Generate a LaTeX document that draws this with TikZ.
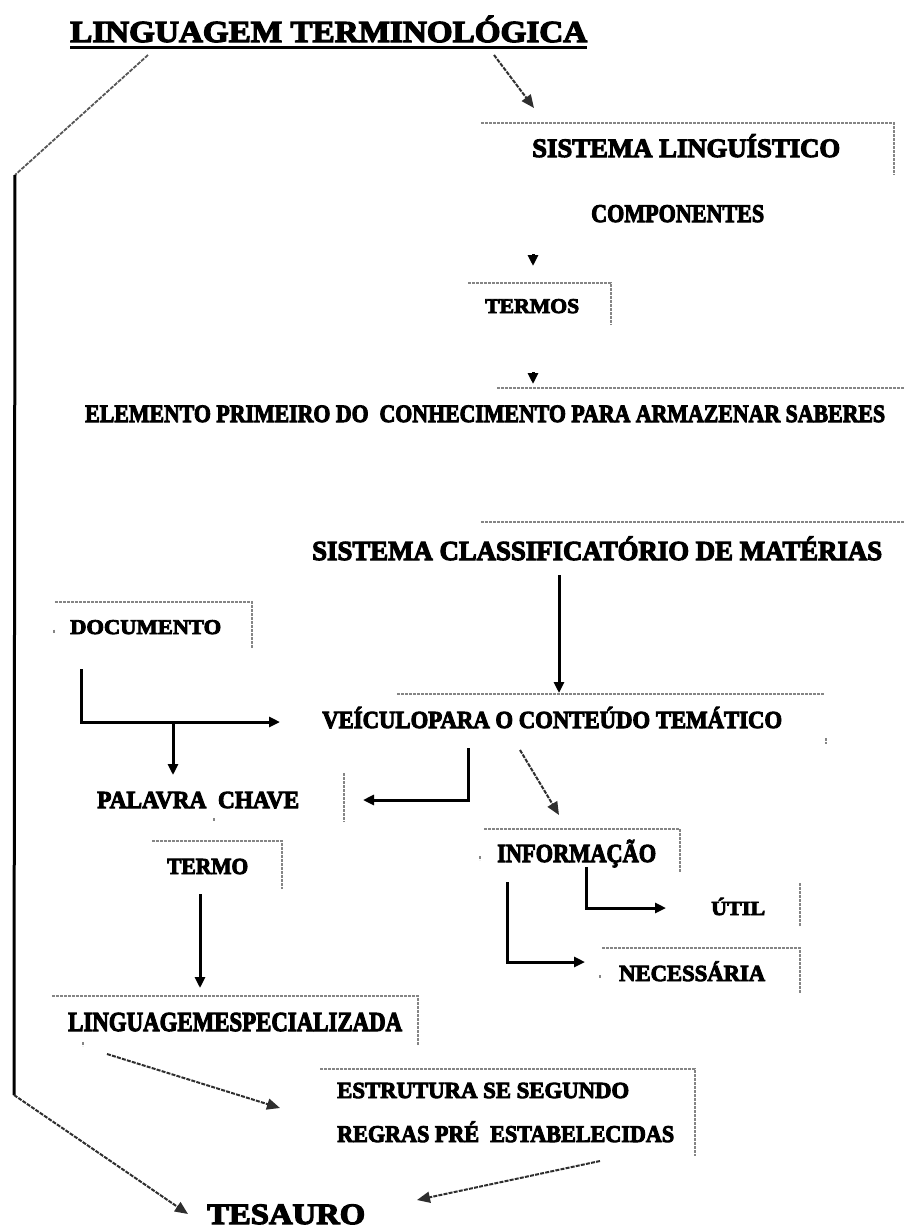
\documentclass[tikz,border=0pt]{standalone}
\usepackage{graphicx}
\usepackage{fontspec}
\setmainfont{Liberation Serif}
\newfontfamily\heavyserif{Liberation Serif Bold}[FakeBold=4]
\usetikzlibrary{arrows.meta}

% heavy condensed caption: width (pt), font size (pt), text
\newcommand\capw[3]{{\fontsize{#2}{#2}\selectfont\heavyserif\resizebox{#1pt}{\height}{#3}}}

\definecolor{framegray}{HTML}{858585}
\definecolor{linkgray}{HTML}{2E2E2E}
\definecolor{pathgray}{HTML}{555555}

\begin{document}
\begin{tikzpicture}[x=1pt,y=-1pt,
  lbl/.style={inner sep=0pt, anchor=base west},
  frame/.style={draw=framegray, line width=2pt, dash pattern=on 3pt off 1pt},
  wire/.style={line width=3pt, line join=miter},
  link/.style={wire, -{Triangle[length=11pt,width=10pt]}},
  dotlink/.style={draw=linkgray, line width=2pt, dash pattern=on 4pt off 1.2pt,
                  -{Triangle[length=13pt,width=11pt]}},
  dotwire/.style={draw=pathgray, line width=1.8pt, dash pattern=on 4pt off 1.2pt},
]
\useasboundingbox (0,0) rectangle (904,1229);

% ---------- texts ----------
\node[lbl] (title) at (70,42)   {\capw{517}{30.5}{LINGUAGEM TERMINOLÓGICA}};
\node[lbl] (sling) at (532,157) {\capw{308}{26.5}{SISTEMA LINGUÍSTICO}};
\node[lbl] (comp)  at (591,222) {\capw{173}{25.5}{COMPONENTES}};
\node[lbl] (termos) at (485,313) {\capw{94}{21}{TERMOS}};
\node[lbl] (elem)  at (85,422)  {\capw{800}{25}{ELEMENTO PRIMEIRO DO\ \ CONHECIMENTO PARA ARMAZENAR SABERES}};
\node[lbl] (scm)   at (312,560) {\capw{570}{27.5}{SISTEMA CLASSIFICATÓRIO DE MATÉRIAS}};
\node[lbl] (doc)   at (70,634)  {\capw{151}{21}{DOCUMENTO}};
\node[lbl] (veic)  at (322,728) {\capw{460}{24.5}{VEÍCULOPARA O CONTEÚDO TEMÁTICO}};
\node[lbl] (pal)   at (97,808)  {\capw{202}{24.5}{PALAVRA\ \ CHAVE}};
\node[lbl] (termo) at (167,874) {\capw{81}{23}{TERMO}};
\node[lbl] (info)  at (497,862) {\capw{159}{26}{INFORMAÇÃO}};
\node[lbl] (util)  at (711,915) {\capw{54}{20}{ÚTIL}};
\node[lbl] (nec)   at (619,981) {\capw{146}{23}{NECESSÁRIA}};
\node[lbl] (lesp)  at (68,1031) {\capw{334}{27.5}{LINGUAGEMESPECIALIZADA}};
\node[lbl] (estr1) at (337,1098) {\capw{292}{23}{ESTRUTURA SE SEGUNDO}};
\node[lbl] (estr2) at (337,1142) {\capw{337}{24}{REGRAS PRÉ\ \ ESTABELECIDAS}};
\node[lbl] (tes)   at (207,1224) {\capw{158}{29.5}{TESAURO}};

% title underline
\draw[line width=3pt] ([yshift=-5pt]title.base west) -- ([yshift=-5pt]title.base east);

% ---------- open frames (top and right edges) ----------
\draw[frame] (481,123) -- (894,123) -- (894,175);
\draw[frame] (468,283) -- (611,283) -- (611,325);
\draw[frame] (497,388) -- (904,388);
\draw[frame] (481,522) -- (904,522);
\draw[frame] (55,602) -- (252,602) -- (252,649);
\draw[frame] (54,629.5) -- (54,633);
\draw[frame] (397,694) -- (825,694);
\draw[frame] (826,738) -- (826,744);
\draw[frame] (344,773) -- (344,822);
\draw[frame] (214,818) -- (214,822);
\draw[frame] (152,841) -- (282,841) -- (282,889);
\draw[frame] (484,829) -- (680,829) -- (680,873);
\draw[frame] (480,856) -- (480,860);
\draw[frame] (800,883) -- (800,927);
\draw[frame] (602,948) -- (800,948) -- (800,993);
\draw[frame] (600,975) -- (600,979);
\draw[frame] (52,996) -- (418,996) -- (418,1045);
\draw[frame] (83,1042) -- (83,1046);
\draw[frame] (320,1069) -- (695,1069) -- (695,1156);

% ---------- connector end points ----------
\coordinate (tL)   at (148,55);
\coordinate (bend) at (15,175);
\coordinate (side) at (14,1095);
\coordinate (tesIn) at (188,1214);
\coordinate (tR)   at (494,55);
\coordinate (slIn) at (534,108);
\coordinate (c1a)  at (533,254);
\coordinate (c1b)  at (533,266);
\coordinate (c2a)  at (533,372);
\coordinate (c2b)  at (533,384);
\coordinate (scmOut) at (559,575);
\coordinate (veicIn) at (559,693);
\coordinate (docOut) at (81,669);
\coordinate (veicL)  at (280,722);
\coordinate (split)  at (173,722);
\coordinate (palIn)  at (173,775);
\coordinate (veicOut) at (468,748);
\coordinate (palR)   at (363,800);
\coordinate (veicD)  at (520,750);
\coordinate (infoIn) at (559,815);
\coordinate (termoOut) at (200,894);
\coordinate (lespIn) at (200,988);
\coordinate (infoA)  at (586,867);
\coordinate (utilIn) at (666,908);
\coordinate (infoB)  at (507,882);
\coordinate (necIn)  at (585,962);
\coordinate (lespOut) at (107,1054);
\coordinate (estrIn) at (280,1108);
\coordinate (estrOut) at (600,1161);
\coordinate (tesR)   at (417,1200);

% ---------- connectors ----------
\draw[dotwire] (tL) -- (bend);
\draw[line width=3pt] (bend) -- (side);
\draw[dotlink] (side) -- (tesIn);
\draw[dotlink] (tR) -- (slIn);
\draw[link] (c1a) -- (c1b);
\draw[link] (c2a) -- (c2b);
\draw[link] (scmOut) -- (veicIn);
\draw[link] (docOut) |- (veicL);
\draw[link] (split) -- (palIn);
\draw[link] (veicOut) |- (palR);
\draw[dotlink] (veicD) -- (infoIn);
\draw[link] (termoOut) -- (lespIn);
\draw[link] (infoA) |- (utilIn);
\draw[link] (infoB) |- (necIn);
\draw[dotlink] (lespOut) -- (estrIn);
\draw[dotlink] (estrOut) -- (tesR);
\end{tikzpicture}
\end{document}
